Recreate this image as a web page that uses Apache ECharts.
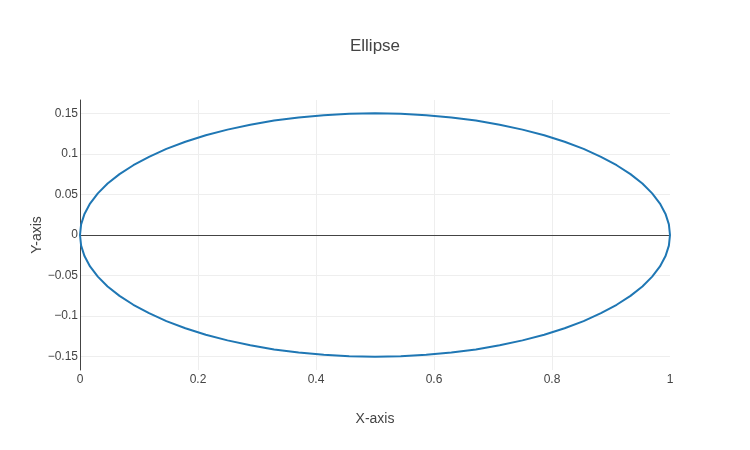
<!DOCTYPE html>
<html><head><meta charset="utf-8">
<script src="https://cdn.jsdelivr.net/npm/echarts@6/dist/echarts.min.js"></script>
<style>html,body{margin:0;padding:0;background:#fff}#c{width:750px;height:450px}</style>
</head><body><div id="c"></div>
<script>
const titleText = 'Ellipse';
const xAxisTitle = 'X-axis';
const yAxisTitle = 'Y-axis';
const xTicks = [0, 0.2, 0.4, 0.6, 0.8, 1];
const yTicks = [-0.15, -0.1, -0.05, 0, 0.05, 0.1, 0.15];
const ellipseX = [
  1, 0.9981, 0.9924, 0.9830, 0.9698, 0.9532, 0.9330, 0.9096, 0.8830, 0.8536, 0.8214, 0.7868,
  0.75, 0.7113, 0.6710, 0.6294, 0.5868, 0.5436, 0.5,
  0.4564, 0.4132, 0.3706, 0.3290, 0.2887, 0.25, 0.2132, 0.1786, 0.1464, 0.1170, 0.0904,
  0.0670, 0.0468, 0.0302, 0.0170, 0.0076, 0.0019, 0,
  0.0019, 0.0076, 0.0170, 0.0302, 0.0468, 0.0670, 0.0904, 0.1170, 0.1464, 0.1786, 0.2132,
  0.25, 0.2887, 0.3290, 0.3706, 0.4132, 0.4564, 0.5,
  0.5436, 0.5868, 0.6294, 0.6710, 0.7113, 0.75, 0.7868, 0.8214, 0.8536, 0.8830, 0.9096,
  0.9330, 0.9532, 0.9698, 0.9830, 0.9924, 0.9981, 1];
const ellipseY = [
  0, 0.0131, 0.0260, 0.0388, 0.0513, 0.0634, 0.0750, 0.0860, 0.0964, 0.1061, 0.1149, 0.1229,
  0.1299, 0.1359, 0.1410, 0.1449, 0.1477, 0.1494, 0.15,
  0.1494, 0.1477, 0.1449, 0.1410, 0.1359, 0.1299, 0.1229, 0.1149, 0.1061, 0.0964, 0.0860,
  0.0750, 0.0634, 0.0513, 0.0388, 0.0260, 0.0131, 0,
  -0.0131, -0.0260, -0.0388, -0.0513, -0.0634, -0.0750, -0.0860, -0.0964, -0.1061, -0.1149, -0.1229,
  -0.1299, -0.1359, -0.1410, -0.1449, -0.1477, -0.1494, -0.15,
  -0.1494, -0.1477, -0.1449, -0.1410, -0.1359, -0.1299, -0.1229, -0.1149, -0.1061, -0.0964, -0.0860,
  -0.0750, -0.0634, -0.0513, -0.0388, -0.0260, -0.0131, 0];

const pts = ellipseX.map((x, i) => [x, ellipseY[i]]);
const font = '"Liberation Sans", Arial, sans-serif';
const fmt = v => String(v).replace('-', '\u2212');

const chart = echarts.init(document.getElementById('c'), null, {renderer: 'canvas'});
chart.setOption({
  animation: false,
  backgroundColor: '#fff',
  title: {text: titleText, left: 'center', top: 33,
    textStyle: {fontFamily: font, fontSize: 17, fontWeight: 'normal', color: '#444'}},
  grid: {left: 80, right: 80, top: 100, bottom: 80, containLabel: false, outerBoundsMode: 'none'},
  xAxis: {
    type: 'value', min: 0, max: 1, interval: 0.2,
    name: xAxisTitle, nameLocation: 'middle', nameGap: 42, nameMoveOverlap: false,
    nameTextStyle: {fontFamily: font, fontSize: 14, color: '#444'},
    axisLine: {show: false, onZero: false},
    axisTick: {show: false},
    axisLabel: {fontFamily: font, fontSize: 12, color: '#444', margin: 4, formatter: fmt,
      customValues: xTicks},
    splitLine: {show: true, showMaxLine: false, lineStyle: {color: '#eee', width: 1}}
  },
  yAxis: {
    type: 'value', min: -0.1664, max: 0.1664,
    name: yAxisTitle, nameLocation: 'middle', nameGap: 36, nameRotate: 90, nameMoveOverlap: false,
    nameTextStyle: {fontFamily: font, fontSize: 14, color: '#444'},
    axisLine: {show: true, onZero: false, lineStyle: {color: '#444', width: 1}},
    axisTick: {show: false, customValues: yTicks},
    axisLabel: {fontFamily: font, fontSize: 12, color: '#444', margin: 2, formatter: fmt,
      customValues: yTicks},
    splitLine: {show: true, lineStyle: {color: '#eee', width: 1}}
  },
  series: [{
    type: 'line', data: pts, smooth: false, showSymbol: false, clip: false,
    lineStyle: {color: '#1f77b4', width: 2},
    markLine: {silent: true, symbol: ['none', 'none'], label: {show: false},
      lineStyle: {color: '#444', width: 1, type: 'solid'}, data: [{yAxis: 0}], z: 1}
  }]
});
</script></body></html>
